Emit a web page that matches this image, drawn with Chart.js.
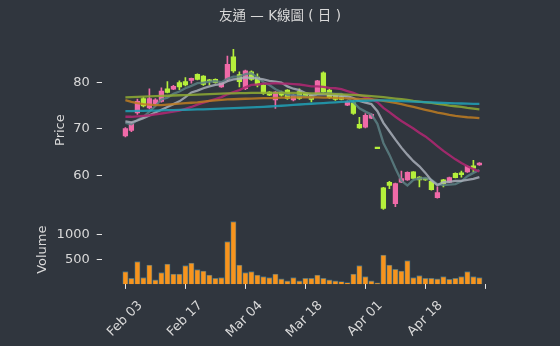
<!DOCTYPE html>
<html><head><meta charset="utf-8">
<script src="https://cdn.jsdelivr.net/npm/chart.js@4.4.1/dist/chart.umd.min.js"></script>
<style>html,body{margin:0;padding:0;background:#30363e;}canvas{display:block;}</style>
</head><body>
<canvas id="c" width="560" height="346"></canvas>
<script>
// ---- data ----
const tickPositions = [0, 10, 20, 30, 40, 50, 60];
const tickLabels = ['Feb 03', 'Feb 17', 'Mar 04', 'Mar 18', 'Apr 01', 'Apr 18', ''];
const priceTicks = [60, 70, 80];
const volumeTicks = [500, 1000];

const openP  = [68.5,69.7,73.4,76.5,74.5,75.4,75.9,78.6,78.5,79.9, 80.1,80.4,81.7,81.3,80.4,80.6,79.0,80.6,85.4,81.6,
                78.6,82.2,81.1,79.4,77.9,76.2,77.9,78.3,76.2,78.0, 77.6,77.2,77.6,82.0,78.3,77.4,76.9,75.1,75.6,71.0,
                70.4,72.3,65.8,57.4,58.6,54.0,58.6,59.1,60.8,59.7, 59.4,58.8,55.3,59.1,58.6,60.5,60.6,60.8,62.1,62.3];
const highP  = [70.3,71.4,76.4,76.8,78.6,76.5,78.8,80.1,79.3,80.3, 81.0,80.9,81.8,81.4,80.6,80.7,80.0,85.6,87.0,82.2,
                82.6,82.4,81.8,79.5,78.0,78.0,78.1,78.4,77.4,78.6, 77.8,77.3,80.4,82.2,78.6,77.5,77.4,76.0,76.0,72.5,
                73.3,73.3,65.8,57.5,58.8,58.4,61.0,60.8,60.9,59.8, 59.5,58.9,57.6,59.2,59.7,60.6,61.0,62.1,63.3,62.8];
const lowP   = [68.3,69.4,73.1,74.7,74.3,75.2,75.7,77.7,78.4,78.4, 79.2,79.8,80.5,79.3,79.4,79.8,78.9,80.2,82.1,79.0,
                78.4,80.4,79.0,77.4,77.1,74.4,77.0,76.3,76.0,76.3, 76.9,75.8,77.4,77.7,76.5,76.1,76.2,75.0,73.1,70.1,
                70.2,72.2,65.8,52.8,57.2,53.4,58.5,59.0,59.3,57.6, 59.0,56.9,55.2,57.6,58.5,59.5,59.7,60.7,60.8,62.2];
const closeP = [70.1,71.2,75.9,74.9,76.5,76.2,78.1,77.8,79.1,79.0, 79.4,80.8,80.6,79.5,80.2,79.9,79.9,83.8,82.4,80.1,
                82.4,80.6,79.4,77.6,77.2,77.9,77.2,76.5,77.2,76.5, 77.0,76.3,80.3,77.9,76.7,76.3,76.3,75.8,73.3,70.2,
                72.9,73.1,65.8,53.0,57.9,58.3,59.4,60.7,59.4,59.1, 59.1,57.0,56.4,58.3,59.6,59.6,60.2,62.0,61.6,62.7];
const volume = [253,120,453,133,387,87,233,407,207,207, 373,427,293,267,187,120,133,853,1253,387,
                233,253,187,153,133,207,107,67,133,67, 120,120,187,120,87,67,53,33,207,373,
                153,67,27,587,387,300,267,473,133,173, 120,120,107,153,100,120,153,253,153,133];
const ma5   = [71.3,71.0,71.9,72.6,73.7,74.9,76.3,76.7,77.5,78.0, 78.7,79.2,79.8,79.9,80.1,80.2,80.0,80.7,81.2,81.2,
               81.7,81.9,81.0,80.0,79.4,78.5,77.9,77.3,77.2,77.1, 76.9,76.7,77.5,77.6,77.6,77.5,77.5,76.6,75.7,74.4,
               73.7,73.1,71.1,67.0,64.5,61.6,58.9,57.9,59.1,59.4, 59.5,59.1,58.2,58.0,58.1,58.2,58.8,59.9,60.6,61.2];
const ma10  = [71.6,71.4,71.8,72.3,72.9,73.5,74.1,74.7,75.3,75.9, 76.8,77.8,78.2,78.7,79.1,79.4,79.6,80.2,80.6,80.7,
               81.0,80.9,80.8,80.6,80.3,80.1,79.9,79.1,78.6,78.3, 77.7,77.3,77.4,77.4,77.4,77.2,77.1,77.0,76.6,76.0,
               75.6,75.3,73.8,71.3,69.5,67.7,66.0,64.5,63.1,62.0, 60.6,59.0,58.0,58.6,58.7,58.9,58.9,59.1,59.3,59.7];
const ma20  = [72.6,72.6,72.7,72.8,72.9,73.1,73.3,73.5,73.7,73.9, 74.3,74.7,75.2,75.6,76.0,76.4,76.8,77.4,77.9,78.3,
               78.9,79.4,79.5,79.7,79.7,79.8,79.7,79.7,79.6,79.5, 79.3,79.1,79.1,79.0,78.8,78.7,78.5,78.1,77.7,77.2,
               76.8,76.4,75.7,74.5,73.6,72.6,71.7,70.9,70.1,69.2, 68.4,67.4,66.3,65.3,64.4,63.5,62.7,62.0,61.4,60.9];
const ma60  = [76.15,75.8,75.5,75.3,75.2,75.1,75.1,75.2,75.3,75.4, 75.5,75.6,75.7,75.85,76.0,76.1,76.2,76.3,76.35,76.4,
               76.45,76.5,76.55,76.6,76.6,76.65,76.7,76.7,76.75,76.75, 76.75,76.75,76.75,76.7,76.7,76.65,76.6,76.55,76.5,76.4,
               76.35,76.3,76.2,76.0,75.8,75.55,75.3,75.0,74.7,74.4, 74.1,73.8,73.5,73.25,73.0,72.8,72.65,72.5,72.4,72.3];
const ma120 = [76.75,76.8,76.85,76.9,76.95,77.0,77.05,77.1,77.15,77.2, 77.25,77.3,77.35,77.4,77.45,77.5,77.55,77.6,77.6,77.65,
               77.65,77.7,77.7,77.7,77.7,77.7,77.7,77.7,77.7,77.7, 77.65,77.6,77.6,77.55,77.5,77.45,77.4,77.35,77.3,77.2,
               77.1,77.0,76.9,76.8,76.65,76.5,76.35,76.2,76.0,75.85, 75.7,75.55,75.35,75.2,75.0,74.85,74.7,74.5,74.35,74.2];
const ma240 = [73.8,73.82,73.85,73.88,73.9,73.93,73.96,74.0,74.03,74.06, 74.1,74.13,74.17,74.2,74.25,74.3,74.35,74.4,74.45,74.5,
               74.55,74.6,74.66,74.72,74.8,74.88,74.96,75.05,75.13,75.22, 75.3,75.38,75.46,75.54,75.62,75.7,75.78,75.85,75.92,75.98,
               76.03,76.07,76.1,76.1,76.08,76.02,75.96,75.9,75.84,75.78, 75.72,75.66,75.6,75.56,75.52,75.48,75.44,75.4,75.37,75.35];

// ---- styling ----
const BG = '#30363e';
const TXT = '#d9d9d9';
const TICKC = '#e6e6e6';
const UP = '#f06aa8', DOWN = '#b5ef3b';
const FONT = "'DejaVu Sans', 'Noto Sans CJK TC', sans-serif";

const idx = closeP.map((_, i) => i);
const candleColor = idx.map(i => closeP[i] > openP[i] ? UP : DOWN);

function maLine(values, color, label) {
  return {
    type: 'line', label, data: values.map((v, i) => ({x: i, y: v})),
    borderColor: color, borderWidth: 2.3, pointRadius: 0, tension: 0,
    xAxisID: 'x', yAxisID: 'y', order: 0
  };
}

const bgPlugin = {
  id: 'bg',
  beforeDraw(c) {
    const ctx = c.ctx;
    ctx.save();
    ctx.fillStyle = BG;
    ctx.fillRect(0, 0, c.width, c.height);
    ctx.restore();
  }
};

new Chart(document.getElementById('c'), {
  type: 'bar',
  data: {
    datasets: [
      maLine(ma240, 'rgba(32,160,182,0.85)', 'MA240'),
      maLine(ma120, 'rgba(142,170,52,0.85)', 'MA120'),
      maLine(ma60, 'rgba(190,124,34,0.85)', 'MA60'),
      maLine(ma20, 'rgba(172,40,112,0.9)', 'MA20'),
      maLine(ma10, 'rgba(168,174,184,0.85)', 'MA10'),
      maLine(ma5, 'rgba(92,128,132,0.85)', 'MA5'),
      {
        type: 'bar', label: 'body', data: idx.map(i => ({x: i, y: [openP[i], closeP[i]]})),
        backgroundColor: candleColor, borderWidth: 0, barThickness: 4.6, minBarLength: 1.5,
        grouped: false, xAxisID: 'x', yAxisID: 'y', order: 1
      },
      {
        type: 'bar', label: 'wick', data: idx.map(i => ({x: i, y: [lowP[i], highP[i]]})),
        backgroundColor: candleColor, borderWidth: 0, barThickness: 1,
        grouped: false, xAxisID: 'x', yAxisID: 'y', order: 2
      },
      {
        type: 'bar', label: 'Volume', data: idx.map(i => ({x: i, y: volume[i]})),
        backgroundColor: '#f7941d', borderColor: '#3e6f86', borderWidth: 0.8, barThickness: 5.4,
        grouped: false, xAxisID: 'x', yAxisID: 'yv', order: 3
      }
    ]
  },
  options: {
    responsive: false, animation: false, devicePixelRatio: 1,
    layout: {padding: {left: 0, right: 0, top: 0, bottom: 0}},
    plugins: {
      legend: {display: false}, tooltip: {enabled: false},
      title: {
        display: true, text: '友通 — K線圖 ( 日 )', color: TXT,
        font: {family: FONT, size: 13.5, weight: 'normal'},
        padding: {top: 8, bottom: 21}
      }
    },
    scales: {
      x: {
        type: 'linear', position: 'bottom', min: -3.95, max: 60.3, offset: false,
        afterBuildTicks: s => { s.ticks = tickPositions.map(v => ({value: v})); },
        afterFit: s => { s.height = 61.7; },
        grid: {display: true, offset: false, drawOnChartArea: false, drawTicks: true, tickLength: 4.6, color: TICKC, lineWidth: 1},
        border: {display: false},
        ticks: {
          autoSkip: false, maxRotation: 45, minRotation: 45, padding: 9, labelOffset: 15,
          color: TXT, font: {family: FONT, size: 13},
          callback: v => { const k = tickPositions.indexOf(v); return k >= 0 ? tickLabels[k] : ''; }
        }
      },
      y: {
        type: 'linear', position: 'left', stack: 'panes', stackWeight: 170, weight: 2,
        min: 51.581, max: 87.906,
        afterBuildTicks: s => { s.ticks = priceTicks.map(v => ({value: v})); },
        afterFit: s => { s.width = 101.7; },
        grid: {drawOnChartArea: false, drawTicks: true, tickLength: 5, color: TICKC},
        border: {display: false},
        ticks: {padding: 7, color: TXT, font: {family: FONT, size: 13}, callback: v => String(v)},
        title: {display: true, text: 'Price', color: TXT, font: {family: FONT, size: 13}, padding: {top: 52.7, bottom: 0}}
      },
      yv: {
        type: 'linear', position: 'left', stack: 'panes', stackWeight: 69.3, weight: 1,
        min: 0, max: 1386,
        afterBuildTicks: s => { s.ticks = volumeTicks.map(v => ({value: v})); },
        afterFit: s => { s.width = 101.7; },
        grid: {drawOnChartArea: false, drawTicks: true, tickLength: 5, color: TICKC},
        border: {display: false},
        ticks: {padding: 7, color: TXT, font: {family: FONT, size: 13}, callback: v => String(v)},
        title: {display: true, text: 'Volume', color: TXT, font: {family: FONT, size: 13}, padding: {top: 35, bottom: 0}}
      },
      spacer: {
        type: 'linear', position: 'right', display: true,
        afterFit: s => { s.width = 72.8; },
        grid: {display: false}, border: {display: false},
        ticks: {display: false}
      }
    }
  },
  plugins: [bgPlugin]
});
</script>
</body></html>
